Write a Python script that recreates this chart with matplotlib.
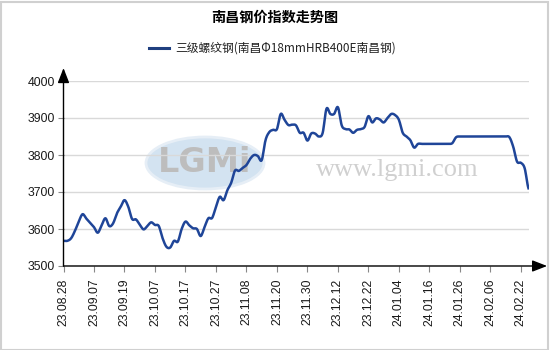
import matplotlib
matplotlib.use("Agg")
import matplotlib.pyplot as plt
import numpy as np
from matplotlib.patches import Rectangle, Ellipse

plt.rcParams['font.family'] = ['Noto Sans CJK SC', 'DejaVu Sans']

title = "南昌钢价指数走势图"
series_name = "三级螺纹钢(南昌Φ18mmHRB400E南昌钢)"

tick_labels = ["23.08.28", "23.09.07", "23.09.19", "23.10.07", "23.10.17", "23.10.27",
               "23.11.08", "23.11.20", "23.11.30", "23.12.12", "23.12.22", "24.01.04",
               "24.01.16", "24.01.26", "24.02.06", "24.02.22"]
tick_step = 8

prices = [
    3568, 3568, 3575, 3595, 3620, 3640, 3628, 3617, 3605, 3590,
    3610, 3629, 3608, 3615, 3642, 3660, 3678, 3660, 3627, 3626,
    3612, 3599, 3608, 3618, 3611, 3608, 3575, 3552, 3550, 3568,
    3566, 3600, 3620, 3610, 3602, 3600, 3581, 3605, 3629, 3630,
    3660, 3687, 3678, 3705, 3725, 3758, 3757, 3765, 3773, 3790,
    3800, 3797, 3786, 3840, 3862, 3868, 3870, 3911, 3895, 3881,
    3882, 3880, 3860, 3860, 3839, 3858, 3858, 3850, 3860, 3925,
    3911, 3911, 3929, 3880, 3870, 3869, 3860, 3868, 3870, 3876,
    3905, 3888, 3899, 3896, 3888, 3900, 3911, 3908, 3895, 3860,
    3850, 3840, 3820, 3830, 3830, 3830, 3830, 3830, 3830, 3830,
    3830, 3830, 3832, 3848, 3850, 3850, 3850, 3850, 3850, 3850,
    3850, 3850, 3850, 3850, 3850, 3850, 3850, 3848, 3822, 3782,
    3779, 3764, 3710,
]
y_ticks = [3500, 3600, 3700, 3800, 3900, 4000]

W, H = 550, 350
fig = plt.figure(figsize=(5.5, 3.5), dpi=100)
fig.patch.set_facecolor('white')

# outer border
fig.patches.append(Rectangle((0.5 / W, 0.5 / H), 1 - 2.5 / W, 1 - 2.5 / H, transform=fig.transFigure,
                             fill=False, edgecolor='#d0d0d0', linewidth=1.5, zorder=5))

# watermark (behind the axes)
fig.patches.append(Ellipse((205 / W, 1 - 163 / H), 118 / W, 52 / H, transform=fig.transFigure,
                           facecolor='#d3e3f1', edgecolor='#e6eef6', linewidth=2, zorder=-2))
fig.text(205 / W, 1 - 163 / H, "LGMi", ha='center', va='center', fontsize=24, fontweight='bold',
         color='#bdbdbd', fontfamily='DejaVu Sans', zorder=-1)
fig.text(397 / W, 1 - 170 / H, "www.lgmi.com", ha='center', va='center', fontsize=19,
         color='#d0d0d0', fontfamily='Liberation Serif', zorder=-1)

left, right, bottom, top = 63.5 / W, 528.5 / W, 1 - 266 / H, 1 - 81 / H
ax = fig.add_axes([left, bottom, right - left, top - bottom])
ax.set_facecolor('none')

# smooth drawing of the series (Catmull-Rom through the data points)
p = np.asarray(prices, dtype=float)
n = len(p)
xs, ys = [], []
for i in range(n - 1):
    p0 = p[max(i - 1, 0)]
    p1 = p[i]
    p2 = p[i + 1]
    p3 = p[min(i + 2, n - 1)]
    t = np.linspace(0, 1, 8, endpoint=False)
    seg = 0.5 * ((2 * p1) + (-p0 + p2) * t + (2 * p0 - 5 * p1 + 4 * p2 - p3) * t ** 2
                 + (-p0 + 3 * p1 - 3 * p2 + p3) * t ** 3)
    xs.extend(i + t)
    ys.extend(seg)
xs.append(n - 1)
ys.append(p[-1])
ax.plot(xs, ys, color='#1f4598', linewidth=1.8, solid_joinstyle='round', zorder=3)

ax.set_xlim(0, n - 1)
ax.set_ylim(3500, 4000)

ax.set_yticks(y_ticks)
ax.set_yticklabels([str(v) for v in y_ticks], fontfamily='Liberation Sans', fontsize=8.8, color='#1a1a1a')
ax.set_xticks([i * tick_step for i in range(len(tick_labels))])
ax.set_xticklabels(tick_labels, rotation=90, fontfamily='Liberation Sans', fontsize=8.8, color='#1a1a1a')
ax.tick_params(axis='both', length=4, width=0.8, color='#888888', pad=2)
ax.tick_params(axis='x', pad=5)

ax.grid(axis='y', color='#d9d9d9', linewidth=1)
ax.set_axisbelow(True)
for s in ['top', 'right', 'left', 'bottom']:
    ax.spines[s].set_visible(False)

# axes with arrows
ax.annotate('', xy=(1.04, 0), xytext=(0, 0), xycoords='axes fraction',
            arrowprops=dict(arrowstyle='-|>,head_length=0.9,head_width=0.35', color='black', lw=1.0,
                            shrinkA=0, shrinkB=0), annotation_clip=False)
ax.annotate('', xy=(0, 1.07), xytext=(0, 0), xycoords='axes fraction',
            arrowprops=dict(arrowstyle='-|>,head_length=0.9,head_width=0.35', color='black', lw=1.0,
                            shrinkA=0, shrinkB=0), annotation_clip=False)

# title & legend
fig.text(0.5, 1 - 18 / H, title, ha='center', va='center', fontsize=10.2, fontweight='bold', color='black')
fig.lines.append(plt.Line2D([149 / W, 169 / W], [1 - 48 / H, 1 - 48 / H], transform=fig.transFigure,
                            color='#1f3f7f', linewidth=2.2))
fig.text(175 / W, 1 - 48 / H, series_name, ha='left', va='center', fontsize=8.5, color='#222222')

fig.savefig('out.png', dpi=100)
